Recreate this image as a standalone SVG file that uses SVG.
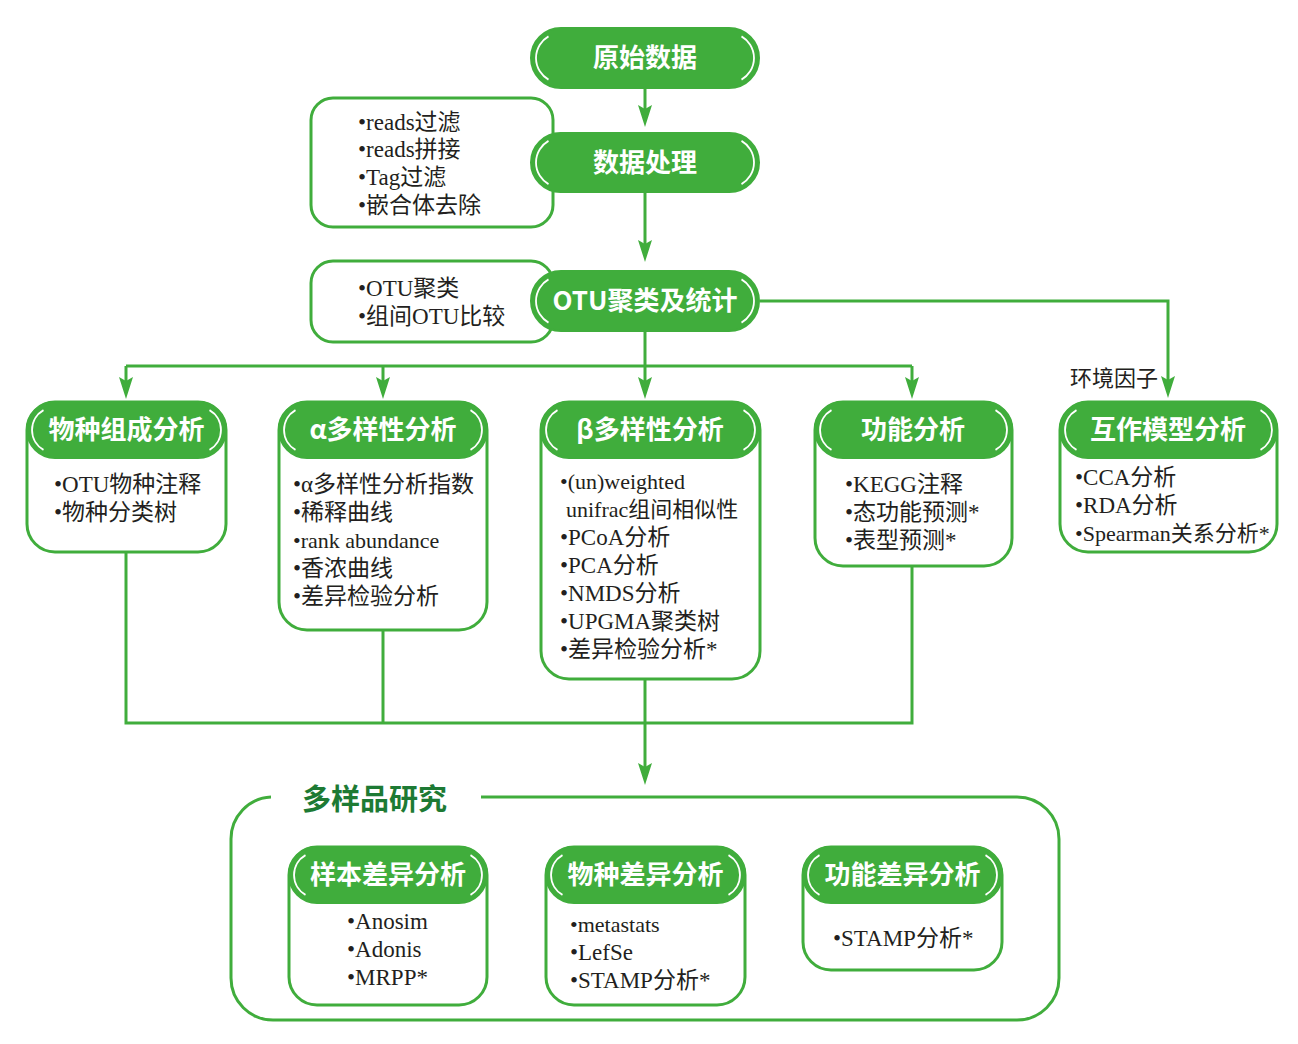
<svg xmlns="http://www.w3.org/2000/svg" xmlns:xlink="http://www.w3.org/1999/xlink" width="1298" height="1044" viewBox="0 0 1298 1044">
<style>
.pill{fill:#40ad3c;stroke:#40ad3c;stroke-width:2}
.box{fill:#fff;stroke:#40ad3c;stroke-width:3}
.arc{fill:none;stroke:#fff;stroke-width:1.8}
.ht{font-family:"Noto Sans CJK SC","Noto Sans",sans-serif;font-weight:bold;font-size:26px;fill:#fff;text-anchor:middle}
.bt{font-family:"Liberation Serif","Noto Sans CJK SC",serif;font-size:23px;fill:#231f20}
.sm{font-size:22px}
.lbl{font-family:"Noto Sans CJK SC","Noto Sans",sans-serif;font-size:22px;fill:#231f20}
.title{font-family:"Noto Sans CJK SC","Noto Sans",sans-serif;font-weight:bold;font-size:29px;fill:#1d7a34}
.ln{fill:none;stroke:#40ad3c;stroke-width:3}
</style>
<defs>
<marker id="ah" viewBox="0 0 22 14" refX="12" refY="7" markerWidth="22" markerHeight="14" markerUnits="userSpaceOnUse" orient="auto">
<path d="M0,0 L22,7 L0,14 L4,7 z" fill="#40ad3c"/>
</marker>
<path id="aL60" d="M -12.5 -21.65 A 25 25 0 0 0 -12.5 21.65"/>
<path id="aR60" d="M 12.5 -21.65 A 25 25 0 0 1 12.5 21.65"/>
<path id="aL56" d="M -11.5 -19.9 A 23 23 0 0 0 -11.5 19.9"/>
<path id="aR56" d="M 11.5 -19.9 A 23 23 0 0 1 11.5 19.9"/>
</defs>
<rect width="1298" height="1044" fill="#fff"/>

<g id="connectors">
<line class="ln" x1="645" y1="88" x2="645" y2="117" marker-end="url(#ah)"/>
<line class="ln" x1="645" y1="192" x2="645" y2="252" marker-end="url(#ah)"/>
<polyline class="ln" points="760,301 1168,301 1168,388" marker-end="url(#ah)"/>
<line class="ln" x1="645" y1="331" x2="645" y2="366"/>
<line class="ln" x1="126" y1="366" x2="912" y2="366"/>
<line class="ln" x1="126" y1="366" x2="126" y2="389" marker-end="url(#ah)"/>
<line class="ln" x1="383" y1="366" x2="383" y2="389" marker-end="url(#ah)"/>
<line class="ln" x1="645" y1="366" x2="645" y2="389" marker-end="url(#ah)"/>
<line class="ln" x1="912" y1="366" x2="912" y2="389" marker-end="url(#ah)"/>
<polyline class="ln" points="126,552 126,723 912,723 912,566"/>
<line class="ln" x1="383" y1="630" x2="383" y2="723"/>
<line class="ln" x1="645" y1="679" x2="645" y2="775" marker-end="url(#ah)"/>
<text class="lbl" x="1070" y="386">环境因子</text>
</g>

<g id="raw">
<rect class="pill" x="531" y="28" width="228" height="60" rx="30"/>
<use href="#aL60" class="arc" x="561" y="58"/><use href="#aR60" class="arc" x="729" y="58"/>
<text class="ht" x="645" y="67">原始数据</text>
</g>

<g id="proc-notes">
<rect class="box" x="311" y="98" width="242" height="129" rx="22"/>
<text class="bt" x="358" y="130">•reads过滤</text>
<text class="bt" x="358" y="157">•reads拼接</text>
<text class="bt" x="358" y="185">•Tag过滤</text>
<text class="bt" x="358" y="213">•嵌合体去除</text>
</g>
<g id="proc">
<rect class="pill" x="531" y="133" width="228" height="59" rx="29.5"/>
<use href="#aL60" class="arc" x="561" y="162.5"/><use href="#aR60" class="arc" x="729" y="162.5"/>
<text class="ht" x="645" y="172">数据处理</text>
</g>

<g id="otu-notes">
<rect class="box" x="311" y="261" width="242" height="81" rx="22"/>
<text class="bt" x="358" y="296">•OTU聚类</text>
<text class="bt" x="358" y="324">•组间OTU比较</text>
</g>
<g id="otu">
<rect class="pill" x="531" y="271" width="228" height="60" rx="30"/>
<use href="#aL60" class="arc" x="561" y="301"/><use href="#aR60" class="arc" x="729" y="301"/>
<text class="ht" x="645" y="310">OTU聚类及统计</text>
</g>

<g id="species">
<rect class="box" x="27" y="402" width="199" height="150" rx="28"/>
<rect class="pill" x="27" y="402" width="199" height="56" rx="28"/>
<use href="#aL56" class="arc" x="55" y="430"/><use href="#aR56" class="arc" x="198" y="430"/>
<text class="ht" x="126.5" y="439">物种组成分析</text>
<text class="bt" x="54" y="492">•OTU物种注释</text>
<text class="bt" x="54" y="520">•物种分类树</text>
</g>

<g id="alpha">
<rect class="box" x="279" y="402" width="208" height="228" rx="28"/>
<rect class="pill" x="279" y="402" width="208" height="56" rx="28"/>
<use href="#aL56" class="arc" x="307" y="430"/><use href="#aR56" class="arc" x="459" y="430"/>
<text class="ht" x="383" y="439">α多样性分析</text>
<text class="bt" x="293" y="492">•α多样性分析指数</text>
<text class="bt" x="293" y="520">•稀释曲线</text>
<text class="bt sm" x="293" y="548">•rank abundance</text>
<text class="bt" x="293" y="576">•香浓曲线</text>
<text class="bt" x="293" y="604">•差异检验分析</text>
</g>

<g id="beta">
<rect class="box" x="541" y="402" width="219" height="277" rx="28"/>
<rect class="pill" x="541" y="402" width="219" height="56" rx="28"/>
<use href="#aL56" class="arc" x="569" y="430"/><use href="#aR56" class="arc" x="732" y="430"/>
<text class="ht" x="650" y="439">β多样性分析</text>
<text class="bt sm" x="560" y="489">•(un)weighted</text>
<text class="bt sm" x="566" y="517">unifrac组间相似性</text>
<text class="bt" x="560" y="545">•PCoA分析</text>
<text class="bt" x="560" y="573">•PCA分析</text>
<text class="bt" x="560" y="601">•NMDS分析</text>
<text class="bt" x="560" y="629">•UPGMA聚类树</text>
<text class="bt" x="560" y="657">•差异检验分析*</text>
</g>

<g id="function">
<rect class="box" x="815" y="402" width="197" height="164" rx="28"/>
<rect class="pill" x="815" y="402" width="197" height="56" rx="28"/>
<use href="#aL56" class="arc" x="843" y="430"/><use href="#aR56" class="arc" x="984" y="430"/>
<text class="ht" x="913" y="439">功能分析</text>
<text class="bt" x="845" y="492">•KEGG注释</text>
<text class="bt" x="845" y="520">•态功能预测*</text>
<text class="bt" x="845" y="548">•表型预测*</text>
</g>

<g id="interaction">
<rect class="box" x="1060" y="402" width="217" height="150" rx="28"/>
<rect class="pill" x="1060" y="402" width="217" height="56" rx="28"/>
<use href="#aL56" class="arc" x="1088" y="430"/><use href="#aR56" class="arc" x="1249" y="430"/>
<text class="ht" x="1168" y="439">互作模型分析</text>
<text class="bt" x="1075" y="485">•CCA分析</text>
<text class="bt" x="1075" y="513">•RDA分析</text>
<text class="bt sm" x="1075" y="541">•Spearman关系分析*</text>
</g>

<g id="multi">
<path class="ln" d="M 481 797 H 1017 A 42 42 0 0 1 1059 839 V 978 A 42 42 0 0 1 1017 1020 H 273 A 42 42 0 0 1 231 978 V 839 A 42 42 0 0 1 271 797"/>
<text class="title" x="302" y="810">多样品研究</text>
</g>

<g id="sample-diff">
<rect class="box" x="289" y="847" width="198" height="158" rx="28"/>
<rect class="pill" x="289" y="847" width="198" height="56" rx="28"/>
<use href="#aL56" class="arc" x="317" y="875"/><use href="#aR56" class="arc" x="459" y="875"/>
<text class="ht" x="388" y="884">样本差异分析</text>
<text class="bt" x="347" y="929">•Anosim</text>
<text class="bt" x="347" y="957">•Adonis</text>
<text class="bt" x="347" y="985">•MRPP*</text>
</g>

<g id="species-diff">
<rect class="box" x="546" y="847" width="199" height="158" rx="28"/>
<rect class="pill" x="546" y="847" width="199" height="56" rx="28"/>
<use href="#aL56" class="arc" x="574" y="875"/><use href="#aR56" class="arc" x="717" y="875"/>
<text class="ht" x="645.5" y="884">物种差异分析</text>
<text class="bt sm" x="570" y="932">•metastats</text>
<text class="bt" x="570" y="960">•LefSe</text>
<text class="bt" x="570" y="988">•STAMP分析*</text>
</g>

<g id="function-diff">
<rect class="box" x="803" y="847" width="199" height="123" rx="28"/>
<rect class="pill" x="803" y="847" width="199" height="56" rx="28"/>
<use href="#aL56" class="arc" x="831" y="875"/><use href="#aR56" class="arc" x="974" y="875"/>
<text class="ht" x="902.5" y="884">功能差异分析</text>
<text class="bt" x="833" y="946">•STAMP分析*</text>
</g>
</svg>
